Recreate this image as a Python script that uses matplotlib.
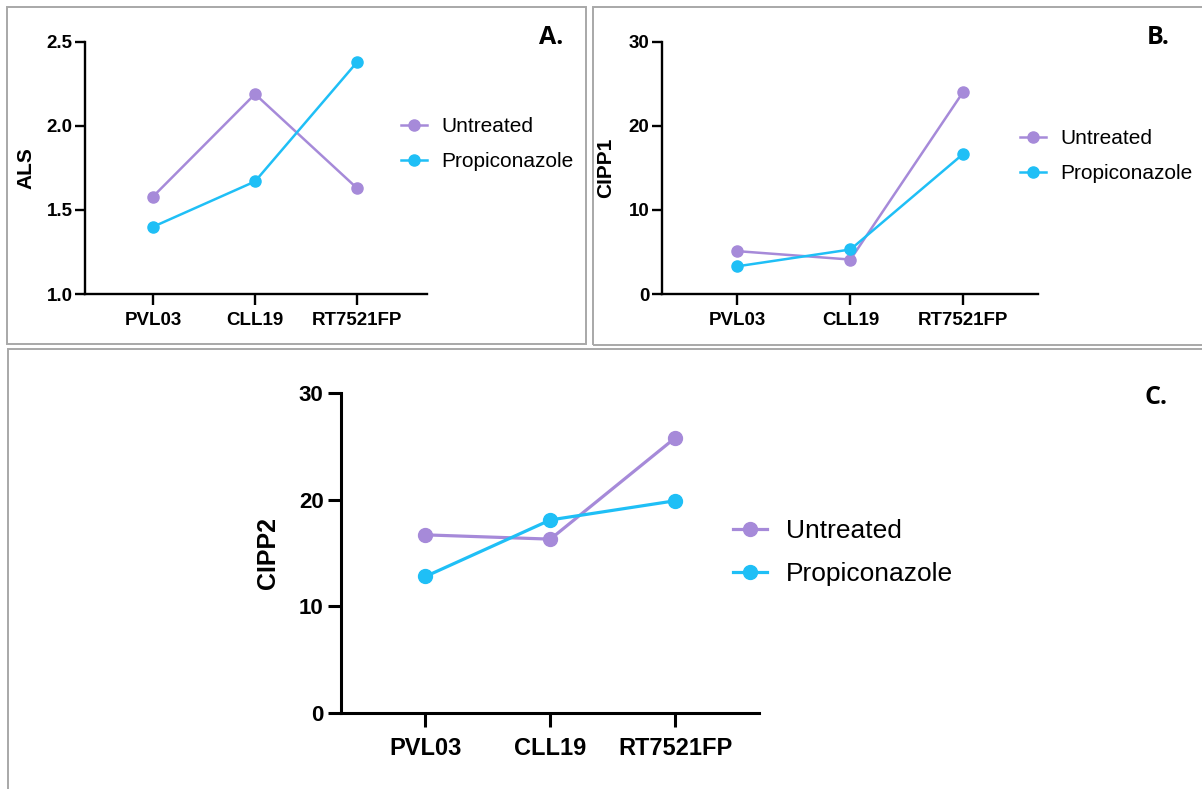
import matplotlib
matplotlib.use("Agg")
import matplotlib.pyplot as plt
from matplotlib.patches import Rectangle

categories = ["PVL03", "CLL19", "RT7521FP"]
series_names = ["Untreated", "Propiconazole"]
als_untreated = [1.58, 2.19, 1.63]
als_propiconazole = [1.40, 1.67, 2.38]
cipp1_untreated = [5.1, 4.1, 24.1]
cipp1_propiconazole = [3.3, 5.3, 16.7]
cipp2_untreated = [16.7, 16.3, 25.8]
cipp2_propiconazole = [12.8, 18.1, 19.9]
als_ticks = [1.0, 1.5, 2.0, 2.5]
cipp_ticks = [0, 10, 20, 30]

PURPLE = "#a68ad9"
CYAN = "#1fbff6"
BORDER = "#a8a8a8"

W, H = 1202, 789
fig = plt.figure(figsize=(W / 100, H / 100), dpi=100)

def px_axes(x0, y0, x1, y1):
    return fig.add_axes([x0 / W, 1 - y1 / H, (x1 - x0) / W, (y1 - y0) / H])

def border(x0, y0, x1, y1):
    fig.patches.append(Rectangle((x0 / W, 1 - y1 / H), (x1 - x0) / W, (y1 - y0) / H,
                                 transform=fig.transFigure, fill=False,
                                 edgecolor=BORDER, linewidth=1.4))

def panel(ax, untreated, propi, ylim, yticks, yfmt, xlim, lw, ms, spw,
          tfs_y, tfs_x, tlen_y, tlen_x, pad_y, pad_x):
    x = list(range(len(categories)))
    ax.plot(x, untreated, color=PURPLE, lw=lw, marker="o", ms=ms, label=series_names[0],
            clip_on=False)
    ax.plot(x, propi, color=CYAN, lw=lw, marker="o", ms=ms, label=series_names[1],
            clip_on=False)
    ax.set_xlim(*xlim)
    ax.set_ylim(*ylim)
    ax.set_xticks(x)
    ax.set_xticklabels(categories)
    ax.set_yticks(yticks)
    ax.set_yticklabels([yfmt.format(v) for v in yticks])
    for s in ["top", "right"]:
        ax.spines[s].set_visible(False)
    for s in ["left", "bottom"]:
        ax.spines[s].set_linewidth(spw)
    ax.tick_params(axis="y", length=tlen_y, width=spw, pad=pad_y, direction="out")
    ax.tick_params(axis="x", length=tlen_x, width=spw, pad=pad_x, direction="out")
    for lab in ax.get_yticklabels():
        lab.set_fontfamily("Liberation Sans")
        lab.set_fontweight("bold")
        lab.set_fontsize(tfs_y)
    for lab in ax.get_xticklabels():
        lab.set_fontfamily("Liberation Sans")
        lab.set_fontweight("bold")
        lab.set_fontsize(tfs_x)
    ax.patch.set_alpha(0)

def legend(ax, xpx, ypx, fs, hl, ls, htp):
    ax.legend(loc="center left", bbox_to_anchor=(xpx / W, 1 - ypx / H),
              bbox_transform=fig.transFigure, frameon=False, borderpad=0,
              borderaxespad=0, handlelength=hl, handletextpad=htp, labelspacing=ls,
              prop={"family": "Liberation Sans", "size": fs})

# Borders
border(7, 7, 586, 344)
border(593, 7, 1210, 345)
border(8, 349, 1210, 800)

# Panel A
axA = px_axes(85, 42, 427, 294)
panel(axA, als_untreated, als_propiconazole, (1.0, 2.5), als_ticks, "{:.1f}",
      (-0.667, 2.686), 1.8, 8, 1.7, 13.5, 13.5, 7, 8, 2, 5)
legend(axA, 401, 144, 15, 1.25, 0.75, 0.7)
fig.text(26 / W, 1 - 168 / H, "ALS", rotation=90, ha="center", va="center",
         fontsize=15, fontweight="bold", family="Liberation Sans")
fig.text(551 / W, 1 - 37 / H, "A.", ha="center", va="center",
         fontsize=18, fontweight="bold", family="Open Sans")

# Panel B
axB = px_axes(662, 42, 1038, 294)
panel(axB, cipp1_untreated, cipp1_propiconazole, (0, 30), cipp_ticks, "{:d}",
      (-0.668, 2.66), 1.8, 8, 1.7, 13.5, 13.5, 7, 8, 2, 5)
legend(axB, 1020, 156, 15, 1.25, 0.75, 0.7)
fig.text(606 / W, 1 - 168 / H, "CIPP1", rotation=90, ha="center", va="center",
         fontsize=15, fontweight="bold", family="Liberation Sans")
fig.text(1158 / W, 1 - 38 / H, "B.", ha="center", va="center",
         fontsize=18, fontweight="bold", family="Open Sans")

# Panel C
axC = px_axes(341, 393, 759, 713)
panel(axC, cipp2_untreated, cipp2_propiconazole, (0, 30), cipp_ticks, "{:d}",
      (-0.676, 2.67), 2.3, 10, 2.2, 16, 17, 9.5, 10, 3, 7)
legend(axC, 733, 553, 19, 1.3, 0.72, 0.7)
fig.text(268 / W, 1 - 553 / H, "CIPP2", rotation=90, ha="center", va="center",
         fontsize=18, fontweight="bold", family="Liberation Sans")
fig.text(1156 / W, 1 - 397 / H, "C.", ha="center", va="center",
         fontsize=18, fontweight="bold", family="Open Sans")

fig.savefig("out.png", dpi=100, facecolor="white")
